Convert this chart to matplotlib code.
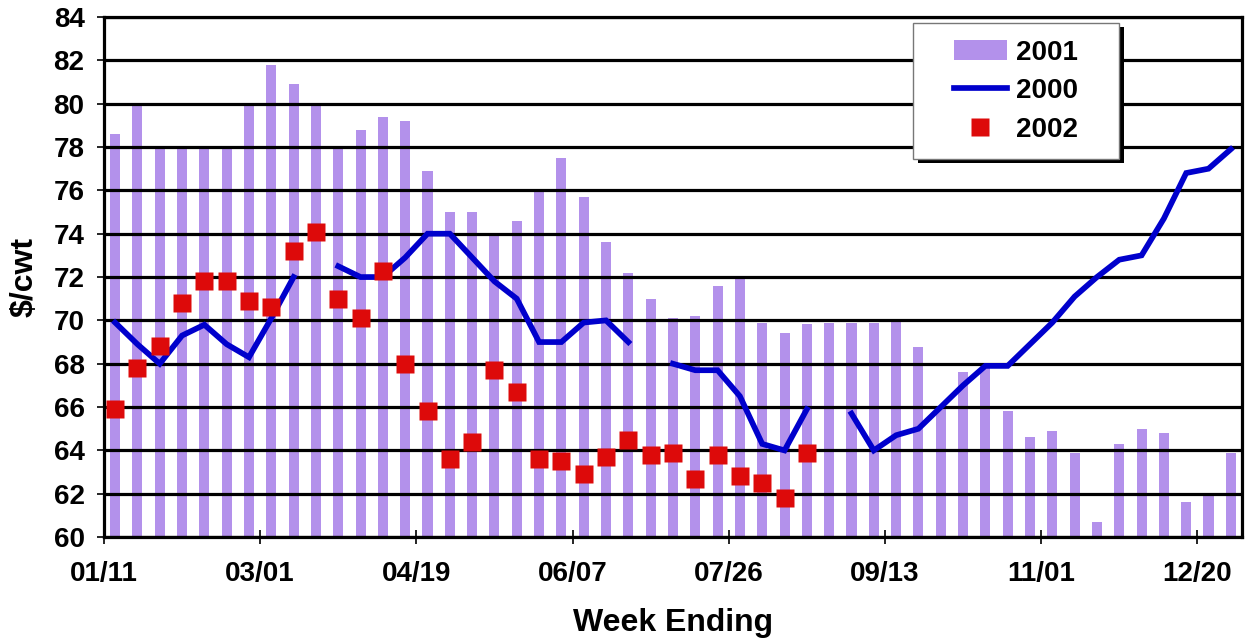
import numpy as np
import matplotlib
matplotlib.use("Agg")
import matplotlib.pyplot as plt
from matplotlib.patches import Rectangle
from matplotlib.lines import Line2D
from matplotlib.patches import Patch

plt.rcParams['font.family'] = ['Liberation Sans', 'DejaVu Sans']
plt.rcParams['font.weight'] = 'bold'

nan = np.nan
tick_labels = ["01/11", "03/01", "04/19", "06/07", "07/26", "09/13", "11/01", "12/20"]

y2001 = [78.6, 80.0, 78.0, 77.9, 78.0, 78.0, 80.0, 81.8, 80.9, 80.0,
         78.0, 78.8, 79.4, 79.2, 76.9, 75.0, 75.0, 74.0, 74.6, 76.0,
         77.5, 75.7, 73.6, 72.2, 71.0, 70.1, 70.2, 71.6, 71.9, 69.9,
         69.4, 69.85, 69.9, 69.9, 69.9, 69.95, 68.75, 66.0, 67.6, 67.9,
         65.8, 64.6, 64.9, 63.9, 60.7, 64.3, 65.0, 64.8, 61.6, 61.9,
         63.9]

y2000 = [69.9, 68.9, 68.0, 69.3, 69.8, 68.9, 68.3, 70.1, 72.0, nan,
         72.5, 72.0, 72.0, 72.9, 74.0, 74.0, 72.9, 71.8, 71.0, 69.0,
         69.0, 69.9, 70.0, 69.0, nan, 68.0, 67.7, 67.7, 66.5, 64.3,
         64.0, 65.9, nan, 65.7, 64.0, 64.7, 65.0, 66.0, 67.0, 67.9,
         67.9, 68.9, 69.9, 71.1, 72.0, 72.8, 73.0, 74.7, 76.8, 77.0,
         77.9]

y2002 = [65.9, 67.8, 68.8, 70.8, 71.8, 71.8, 70.9, 70.6, 73.2, 74.1,
         71.0, 70.1, 72.3, 68.0, 65.8, 63.6, 64.4, 67.7, 66.7, 63.6,
         63.5, 62.9, 63.7, 64.5, 63.8, 63.9, 62.7, 63.8, 62.8, 62.5,
         61.8, 63.9]

bar_color = '#B391EB'
line_color = '#0000CC'
mark_color = '#DD0A0A'

x = np.arange(len(y2001))

fig = plt.figure(figsize=(12.6, 6.44), dpi=100)
ax = fig.add_axes([0.0825, 0.166, 0.9032, 0.8076])

ax.bar(x, np.array(y2001) - 60, bottom=60, width=0.45, color=bar_color, zorder=1)
ax.plot(x, y2000, color=line_color, lw=4.1, zorder=3, solid_joinstyle='miter')
ax.plot(np.arange(len(y2002)), y2002, 's', color=mark_color, ms=12.5, mec='none', zorder=4)

ax.set_xlim(-0.5, len(y2001) - 0.5)
ax.set_ylim(60, 84)
ax.set_yticks(np.arange(60, 85, 2))
ax.set_xticks([-0.5 + 7 * k for k in range(len(tick_labels))])
ax.set_xticklabels(tick_labels)

ax.set_axisbelow(False)
ax.yaxis.grid(True, color='black', lw=2.3)
ax.xaxis.grid(False)

for s in ['left', 'bottom', 'top', 'right']:
    ax.spines[s].set_color('black')
    ax.spines[s].set_linewidth(2.3)

ax.tick_params(axis='y', direction='out', length=5, width=1.2, pad=9, labelsize=20)
ax.tick_params(axis='x', direction='inout', length=10, width=1.2, pad=12, labelsize=20)
for lab in ax.get_xticklabels() + ax.get_yticklabels():
    lab.set_fontweight('bold')

ax.set_xlabel('Week Ending', fontsize=23, fontweight='bold', labelpad=15)
ax.set_ylabel(r'\$/cwt', fontsize=23, fontweight='bold', labelpad=10)

# legend box with shadow
lx0, ly0, lx1, ly1 = 0.711, 0.727, 0.892, 0.988
ax.add_patch(Rectangle((lx0 + 0.004, ly0 - 0.008), lx1 - lx0, ly1 - ly0,
                       transform=ax.transAxes, facecolor='black', edgecolor='none',
                       zorder=5, clip_on=False))
ax.add_patch(Rectangle((lx0, ly0), lx1 - lx0, ly1 - ly0,
                       transform=ax.transAxes, facecolor='white', edgecolor='#777777',
                       lw=1.0, zorder=5.1, clip_on=False))
handles = [Patch(facecolor=bar_color, edgecolor='none'),
           Line2D([], [], color=line_color, lw=4.1),
           Line2D([], [], marker='s', ls='none', color=mark_color, ms=12.5, mec='none')]
leg = ax.legend(handles, ['2001', '2000', '2002'], loc='center',
                bbox_to_anchor=((lx0 + lx1) / 2, (ly0 + ly1) / 2),
                frameon=False, prop={'size': 20, 'weight': 'bold'},
                handlelength=1.9, handletextpad=0.35, labelspacing=0.45,
                borderpad=0.2)
leg.set_zorder(6)

fig.savefig('out.png', dpi=100)
